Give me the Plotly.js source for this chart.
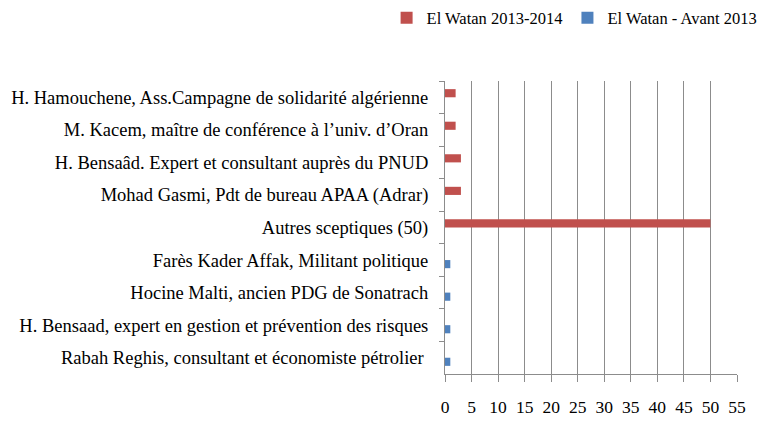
<!DOCTYPE html>
<html><head><meta charset="utf-8">
<script src="https://cdn.plot.ly/plotly-3.0.1.min.js"></script>
<style>body{margin:0;background:#fff}#c{width:761px;height:423px}</style>
</head><body><div id="c"></div>
<script>
const categories = [
  "H. Hamouchene, Ass.Campagne de solidarité algérienne",
  "M. Kacem, maître de conférence à l’univ. d’Oran",
  "H. Bensaâd. Expert et consultant auprès du PNUD",
  "Mohad Gasmi, Pdt de bureau APAA (Adrar)",
  "Autres sceptiques (50)",
  "Farès Kader Affak, Militant politique",
  "Hocine Malti, ancien PDG de Sonatrach",
  "H. Bensaad, expert en gestion et prévention des risques",
  "Rabah Reghis, consultant et économiste pétrolier "
];
const seriesNames = ["El Watan 2013-2014", "El Watan - Avant 2013"];
const watan2013_2014 = [2, 2, 3, 3, 50, 0, 0, 0, 0];
const watanAvant2013 = [0, 0, 0, 0, 0, 1, 1, 1, 1];
const xTicks = [0,5,10,15,20,25,30,35,40,45,50,55];

const font = {family: "Liberation Serif, Times New Roman, serif", color: "#000"};
const traces = [
  {type:"bar", orientation:"h", name: seriesNames[0], y: categories, x: watan2013_2014,
   marker:{color:"#C0504D"}},
  {type:"bar", orientation:"h", name: seriesNames[1], y: categories, x: watanAvant2013,
   marker:{color:"#4F81BD"}}
];
const layout = {
  width:761, height:423,
  margin:{l:445, r:24, t:81, b:49, autoexpand:false},
  paper_bgcolor:"#fff", plot_bgcolor:"#fff",
  font: Object.assign({size:18.5}, font),
  barmode:"group", bargap:0.5, bargroupgap:0,
  showlegend:true,
  legend:{orientation:"h", x:-0.2, xanchor:"left", y:1.215, yanchor:"middle",
          font:Object.assign({size:16.5}, font), itemwidth:30,
          traceorder:"normal", bgcolor:"rgba(0,0,0,0)"},
  xaxis:{range:[0,55], tickvals:xTicks, ticktext:xTicks.map(String),
         showgrid:true, gridcolor:"#8c8c8c", gridwidth:1,
         showline:true, linecolor:"#8c8c8c", linewidth:1,
         ticks:"outside", ticklen:7, tickcolor:"#8c8c8c", ticklabelstandoff:10,
         zeroline:false, tickfont:Object.assign({size:17.5}, font), fixedrange:true},
  yaxis:{type:"category", autorange:"reversed", categoryorder:"array", categoryarray:categories,
         showline:true, linecolor:"#8c8c8c", linewidth:1,
         ticks:"outside", ticklen:5, tickcolor:"#8c8c8c", tickson:"boundaries",
         ticklabelstandoff:12, showgrid:false,
         tickfont:Object.assign({size:18.5}, font), fixedrange:true}
};
Plotly.newPlot("c", traces, layout, {displayModeBar:false, staticPlot:true});
</script></body></html>
